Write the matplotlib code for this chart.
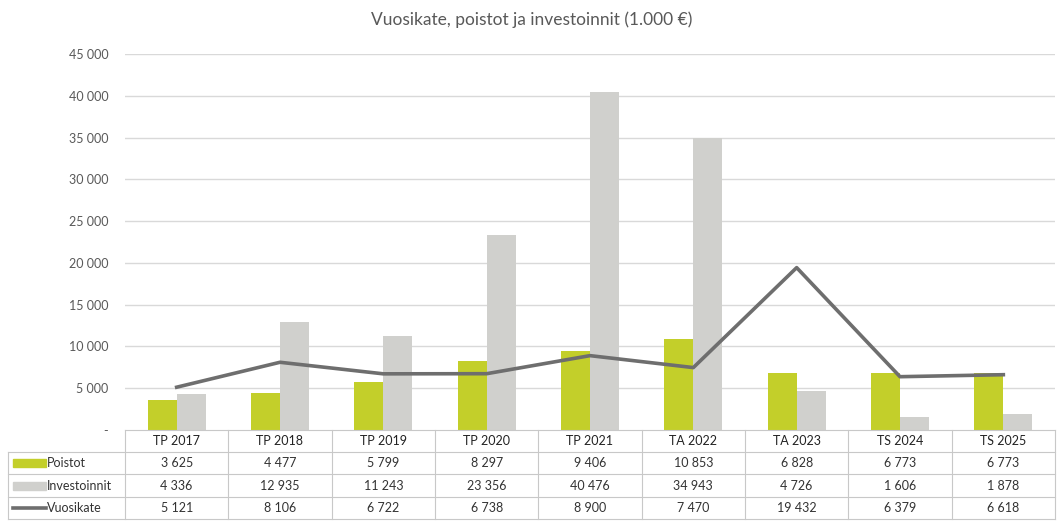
import matplotlib
matplotlib.use('Agg')
import matplotlib.pyplot as plt
from matplotlib.patches import Rectangle
from matplotlib.lines import Line2D
import numpy as np

plt.rcParams['font.family'] = ['Lato', 'DejaVu Sans']

years = ['TP 2017', 'TP 2018', 'TP 2019', 'TP 2020', 'TP 2021',
         'TA 2022', 'TA 2023', 'TS 2024', 'TS 2025']
poistot = [3625, 4477, 5799, 8297, 9406, 10853, 6828, 6773, 6773]
investoinnit = [4336, 12935, 11243, 23356, 40476, 34943, 4726, 1606, 1878]
vuosikate = [5121, 8106, 6722, 6738, 8900, 7470, 19432, 6379, 6618]
series_names = ['Poistot', 'Investoinnit', 'Vuosikate']

GREEN = '#c3cf2a'
GRAY = '#d0d0cd'
LINE = '#6e6e6e'
GRID = '#d9d9d9'
TXT = '#595959'

W, H = 1064, 523
fig = plt.figure(figsize=(W / 100, H / 100), dpi=100)
ax = fig.add_axes([125 / W, 1 - 430 / H, (1055 - 125) / W, (430 - 54) / H])

x = np.arange(len(years))
bw = 0.28
ax.bar(x - bw / 2, poistot, bw, color=GREEN, zorder=2)
ax.bar(x + bw / 2, investoinnit, bw, color=GRAY, zorder=2)
ax.plot(x, vuosikate, color=LINE, lw=2.6, zorder=3)

def fmt(v):
    return f'{v:,}'.replace(',', ' ')

ax.set_xlim(-0.5, len(years) - 0.5)
ax.set_ylim(0, 45000)
yt = np.arange(0, 45001, 5000)
ax.set_yticks(yt)
ax.set_yticklabels(['-'] + [fmt(v) for v in yt[1:]], fontsize=9, color=TXT)
ax.tick_params(axis='y', length=0, pad=12)
ax.set_xticks([])
for v in yt[1:]:
    ax.axhline(v, color=GRID, lw=1, zorder=1)
for s in ax.spines.values():
    s.set_visible(False)

fig.text(0.5, 1 - 20 / H, 'Vuosikate, poistot ja investoinnit (1.000 €)',
         ha='center', va='center', fontsize=12.5, color=TXT)

# data table below the axes
tr = ax.get_xaxis_transform()
ppu = (1055 - 125) / len(years)          # pixels per category
xl = -0.5 - (125 - 8) / ppu              # left edge of label column
ah = 430 - 54
rows_px = [430, 452, 474, 497, 519]
ry = [-(p - 430) / ah for p in rows_px]
lc = '#c8c8c8'

def hline(x0, x1, y):
    ax.add_line(Line2D([x0, x1], [y, y], transform=tr, color=lc, lw=0.8, clip_on=False))

def vline(xx, y0, y1):
    ax.add_line(Line2D([xx, xx], [y0, y1], transform=tr, color=lc, lw=0.8, clip_on=False))

hline(-0.5, len(years) - 0.5, ry[0])
for y in ry[1:]:
    hline(xl, len(years) - 0.5, y)
for i in range(len(years) + 1):
    vline(i - 0.5, ry[0], ry[-1])
vline(xl, ry[1], ry[-1])

fs = 9
for i, lab in enumerate(years):
    ax.text(i, (ry[0] + ry[1]) / 2, lab, transform=tr, ha='center', va='center',
            fontsize=fs, color='#222222', clip_on=False)

table = [poistot, investoinnit, vuosikate]
for r, vals in enumerate(table):
    yc = (ry[r + 1] + ry[r + 2]) / 2
    for i, v in enumerate(vals):
        ax.text(i, yc, fmt(v), transform=tr, ha='center',
                va='center', fontsize=fs, color='#333333', clip_on=False)
    # legend key + label
    kx0 = xl + 5 / ppu
    kx1 = xl + 38 / ppu
    if r < 2:
        ax.add_patch(Rectangle((kx0, yc - 4 / ah), kx1 - kx0, 8 / ah, transform=tr,
                               color=[GREEN, GRAY][r], clip_on=False))
    else:
        ax.add_line(Line2D([kx0, kx1], [yc, yc], transform=tr, color=LINE, lw=2.6,
                           clip_on=False))
    ax.text(kx1 + 1 / ppu, yc, series_names[r], transform=tr, ha='left', va='center',
            fontsize=fs, color='#333333', clip_on=False)

fig.savefig('out.png', dpi=100)
